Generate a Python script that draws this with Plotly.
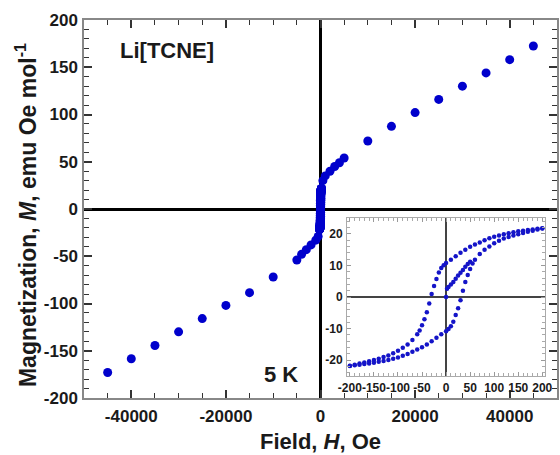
import plotly.graph_objects as go

# Main M(H) data at 5 K (high-field points)
main_H = [-45000, -40000, -35000, -30000, -25000, -20000, -15000, -10000,
          -5000, -4000, -3000, -2000, -1000, -500,
          500, 1000, 2000, 3000, 4000, 5000,
          10000, 15000, 20000, 25000, 30000, 35000, 40000, 45000]
main_M = [-173, -158.5, -144.5, -130, -116, -102, -88.5, -72,
          -54, -48, -43, -38, -33, -29,
          30, 35, 40, 45, 49, 54,
          72, 87.5, 102, 116, 130, 144, 158, 172.5]

# Hysteresis loop (inset), descending branch
desc_H = [200, 190, 180, 170, 160, 150, 140, 130, 120, 110, 100, 90, 80, 70, 60, 50,
          40, 30, 20, 10, 0, -5, -10, -15, -20, -25, -30, -35, -40, -45, -50, -55,
          -60, -70, -80, -90, -100, -110, -120, -130, -140, -150, -160, -170, -180,
          -190, -200]
desc_M = [21.8, 21.6, 21.4, 21.2, 21.0, 20.8, 20.5, 20.2, 19.9, 19.5, 19.1, 18.6,
          18.0, 17.3, 16.6, 15.9, 15.0, 14.0, 12.9, 11.8, 10.8, 10.1, 9.2, 7.8, 5.7,
          3.5, 1.0, -2.0, -4.8, -7.0, -8.9, -10.6, -11.8, -13.6, -15.0, -16.0, -17.0,
          -17.8, -18.5, -19.0, -19.5, -19.9, -20.3, -20.7, -21.0, -21.4, -21.7]
# ascending branch
asc_H = [-200, -190, -180, -170, -160, -150, -140, -130, -120, -110, -100, -90, -80,
         -70, -60, -50, -40, -30, -20, -10, 0, 5, 10, 15, 20, 25, 30, 35, 40, 45, 50,
         55, 60, 70, 80, 90, 100, 110, 120, 130, 140, 150, 160, 170, 180, 190, 200]
asc_M = [-21.8, -21.6, -21.4, -21.2, -21.0, -20.8, -20.5, -20.2, -19.9, -19.5, -19.1,
         -18.6, -18.0, -17.3, -16.6, -15.9, -15.0, -14.0, -12.9, -11.8, -10.8, -10.1,
         -9.2, -7.8, -5.7, -3.5, -1.0, 2.0, 4.8, 7.0, 8.9, 10.6, 11.8, 13.6, 15.0,
         16.0, 17.0, 17.8, 18.5, 19.0, 19.5, 19.9, 20.3, 20.7, 21.0, 21.4, 21.7]
# virgin curve
virgin_H = [0, 2, 5, 10, 15, 20, 25, 30, 35, 40, 45, 50]
virgin_M = [0, 2.6, 3.2, 4.0, 4.8, 5.8, 6.8, 7.7, 8.6, 9.6, 10.5, 11.2]

# tick labels
main_x_ticks = [-40000, -20000, 0, 20000, 40000]
main_x_labels = ["-40000", "-20000", "0", "20000", "40000"]
main_y_ticks = [-200, -150, -100, -50, 0, 50, 100, 150, 200]
main_y_labels = ["-200", "-150", "-100", "-50", "0", "50", "100", "150", "200"]
inset_x_ticks = [-200, -150, -100, -50, 0, 50, 100, 150, 200]
inset_x_labels = ["-200", "-150", "-100", "-50", "0", "50", "100", "150", "200"]
inset_y_ticks = [-20, -10, 0, 10, 20]
inset_y_labels = ["-20", "-10", "0", "10", "20"]

loop_H = virgin_H + desc_H + asc_H
loop_M = virgin_M + desc_M + asc_M

FONT = "Liberation Sans, Arial, sans-serif"
TXT = "#1a1a1a"

fig = go.Figure()
fig.add_trace(go.Scatter(x=main_H + loop_H, y=main_M + loop_M, mode="markers",
                         marker=dict(color="#0000cc", size=9, line=dict(width=0)),
                         xaxis="x", yaxis="y", showlegend=False))
fig.add_trace(go.Scatter(x=loop_H, y=loop_M, mode="markers",
                         marker=dict(color="#1414c8", size=4.5, line=dict(width=0)),
                         xaxis="x2", yaxis="y2", showlegend=False))

main_tick = dict(family=FONT, size=17, color=TXT, weight="bold")
inset_tick = dict(family=FONT, size=12, color=TXT, weight="bold")

fig.update_layout(
    width=560, height=455,
    margin=dict(l=84, r=3, t=20, b=57),
    paper_bgcolor="white", plot_bgcolor="white",
    font=dict(family=FONT, color=TXT),
    xaxis=dict(domain=[0, 1], range=[-50000, 50000], automargin=False,
               tickvals=main_x_ticks, ticktext=main_x_labels,
               ticks="inside", ticklen=8, tickwidth=1.5, tickcolor="#333",
               minor=dict(dtick=5000, tick0=0, ticks="inside", ticklen=5, tickwidth=1.2, tickcolor="#333"),
               showline=True, linecolor="#888", linewidth=1.5, mirror="ticks",
               showgrid=False, zeroline=True, zerolinecolor="black", zerolinewidth=2.5,
               tickfont=main_tick, ticklabelstandoff=2),
    yaxis=dict(domain=[0, 1], range=[-200, 200], automargin=False,
               tickvals=main_y_ticks, ticktext=main_y_labels,
               ticks="inside", ticklen=8, tickwidth=1.5, tickcolor="#333",
               minor=dict(dtick=10, tick0=0, ticks="inside", ticklen=5, tickwidth=1.2, tickcolor="#333"),
               showline=True, linecolor="#888", linewidth=1.5, mirror="ticks",
               showgrid=False, zeroline=True, zerolinecolor="black", zerolinewidth=2.5,
               tickfont=main_tick, ticklabelstandoff=1),
    xaxis2=dict(domain=[0.556, 0.975], anchor="y2", range=[-206, 206], automargin=False,
                tickvals=inset_x_ticks, ticktext=inset_x_labels, tickangle=0,
                ticks="inside", ticklen=4, tickwidth=1, tickcolor="#999",
                minor=dict(dtick=10, tick0=0, ticks="inside", ticklen=3, tickcolor="#aaa"),
                showline=True, linecolor="#aaa", linewidth=1, mirror="ticks",
                showgrid=False, zeroline=True, zerolinecolor="#444", zerolinewidth=1.5,
                tickfont=inset_tick, ticklabelstandoff=1),
    yaxis2=dict(domain=[0.058, 0.476], anchor="x2", range=[-25, 25], automargin=False,
                tickvals=inset_y_ticks, ticktext=inset_y_labels,
                ticks="inside", ticklen=4, tickwidth=1, tickcolor="#999",
                minor=dict(dtick=2, tick0=0, ticks="inside", ticklen=3, tickcolor="#aaa"),
                showline=True, linecolor="#aaa", linewidth=1, mirror="ticks",
                showgrid=False, zeroline=True, zerolinecolor="#444", zerolinewidth=1.5,
                tickfont=inset_tick, ticklabelstandoff=1),
    annotations=[
        dict(text="Li[TCNE]", xref="paper", yref="paper", x=0.072, y=0.92,
             xanchor="left", yanchor="middle", showarrow=False,
             font=dict(family=FONT, size=22, color=TXT, weight="bold")),
        dict(text="5 K", xref="paper", yref="paper", x=0.4175, y=0.061,
             xanchor="center", yanchor="middle", showarrow=False,
             font=dict(family=FONT, size=22, color=TXT, weight="bold")),
        dict(text="Field, <i>H</i>, Oe", xref="paper", yref="paper", x=0.5, y=-0.115,
             xanchor="center", yanchor="middle", showarrow=False,
             font=dict(family=FONT, size=22, color=TXT, weight="bold")),
        dict(text="Magnetization, <i>M</i>, emu Oe mol<sup>-1</sup>", xref="paper", yref="paper",
             x=-0.1226, y=0.484, xanchor="center", yanchor="middle", textangle=-90,
             showarrow=False, font=dict(family=FONT, size=23, color=TXT, weight="bold")),
    ],
)

fig.write_html("out.html", config={"displayModeBar": False},
               post_script="document.body.style.margin='0';document.body.style.padding='0';")
